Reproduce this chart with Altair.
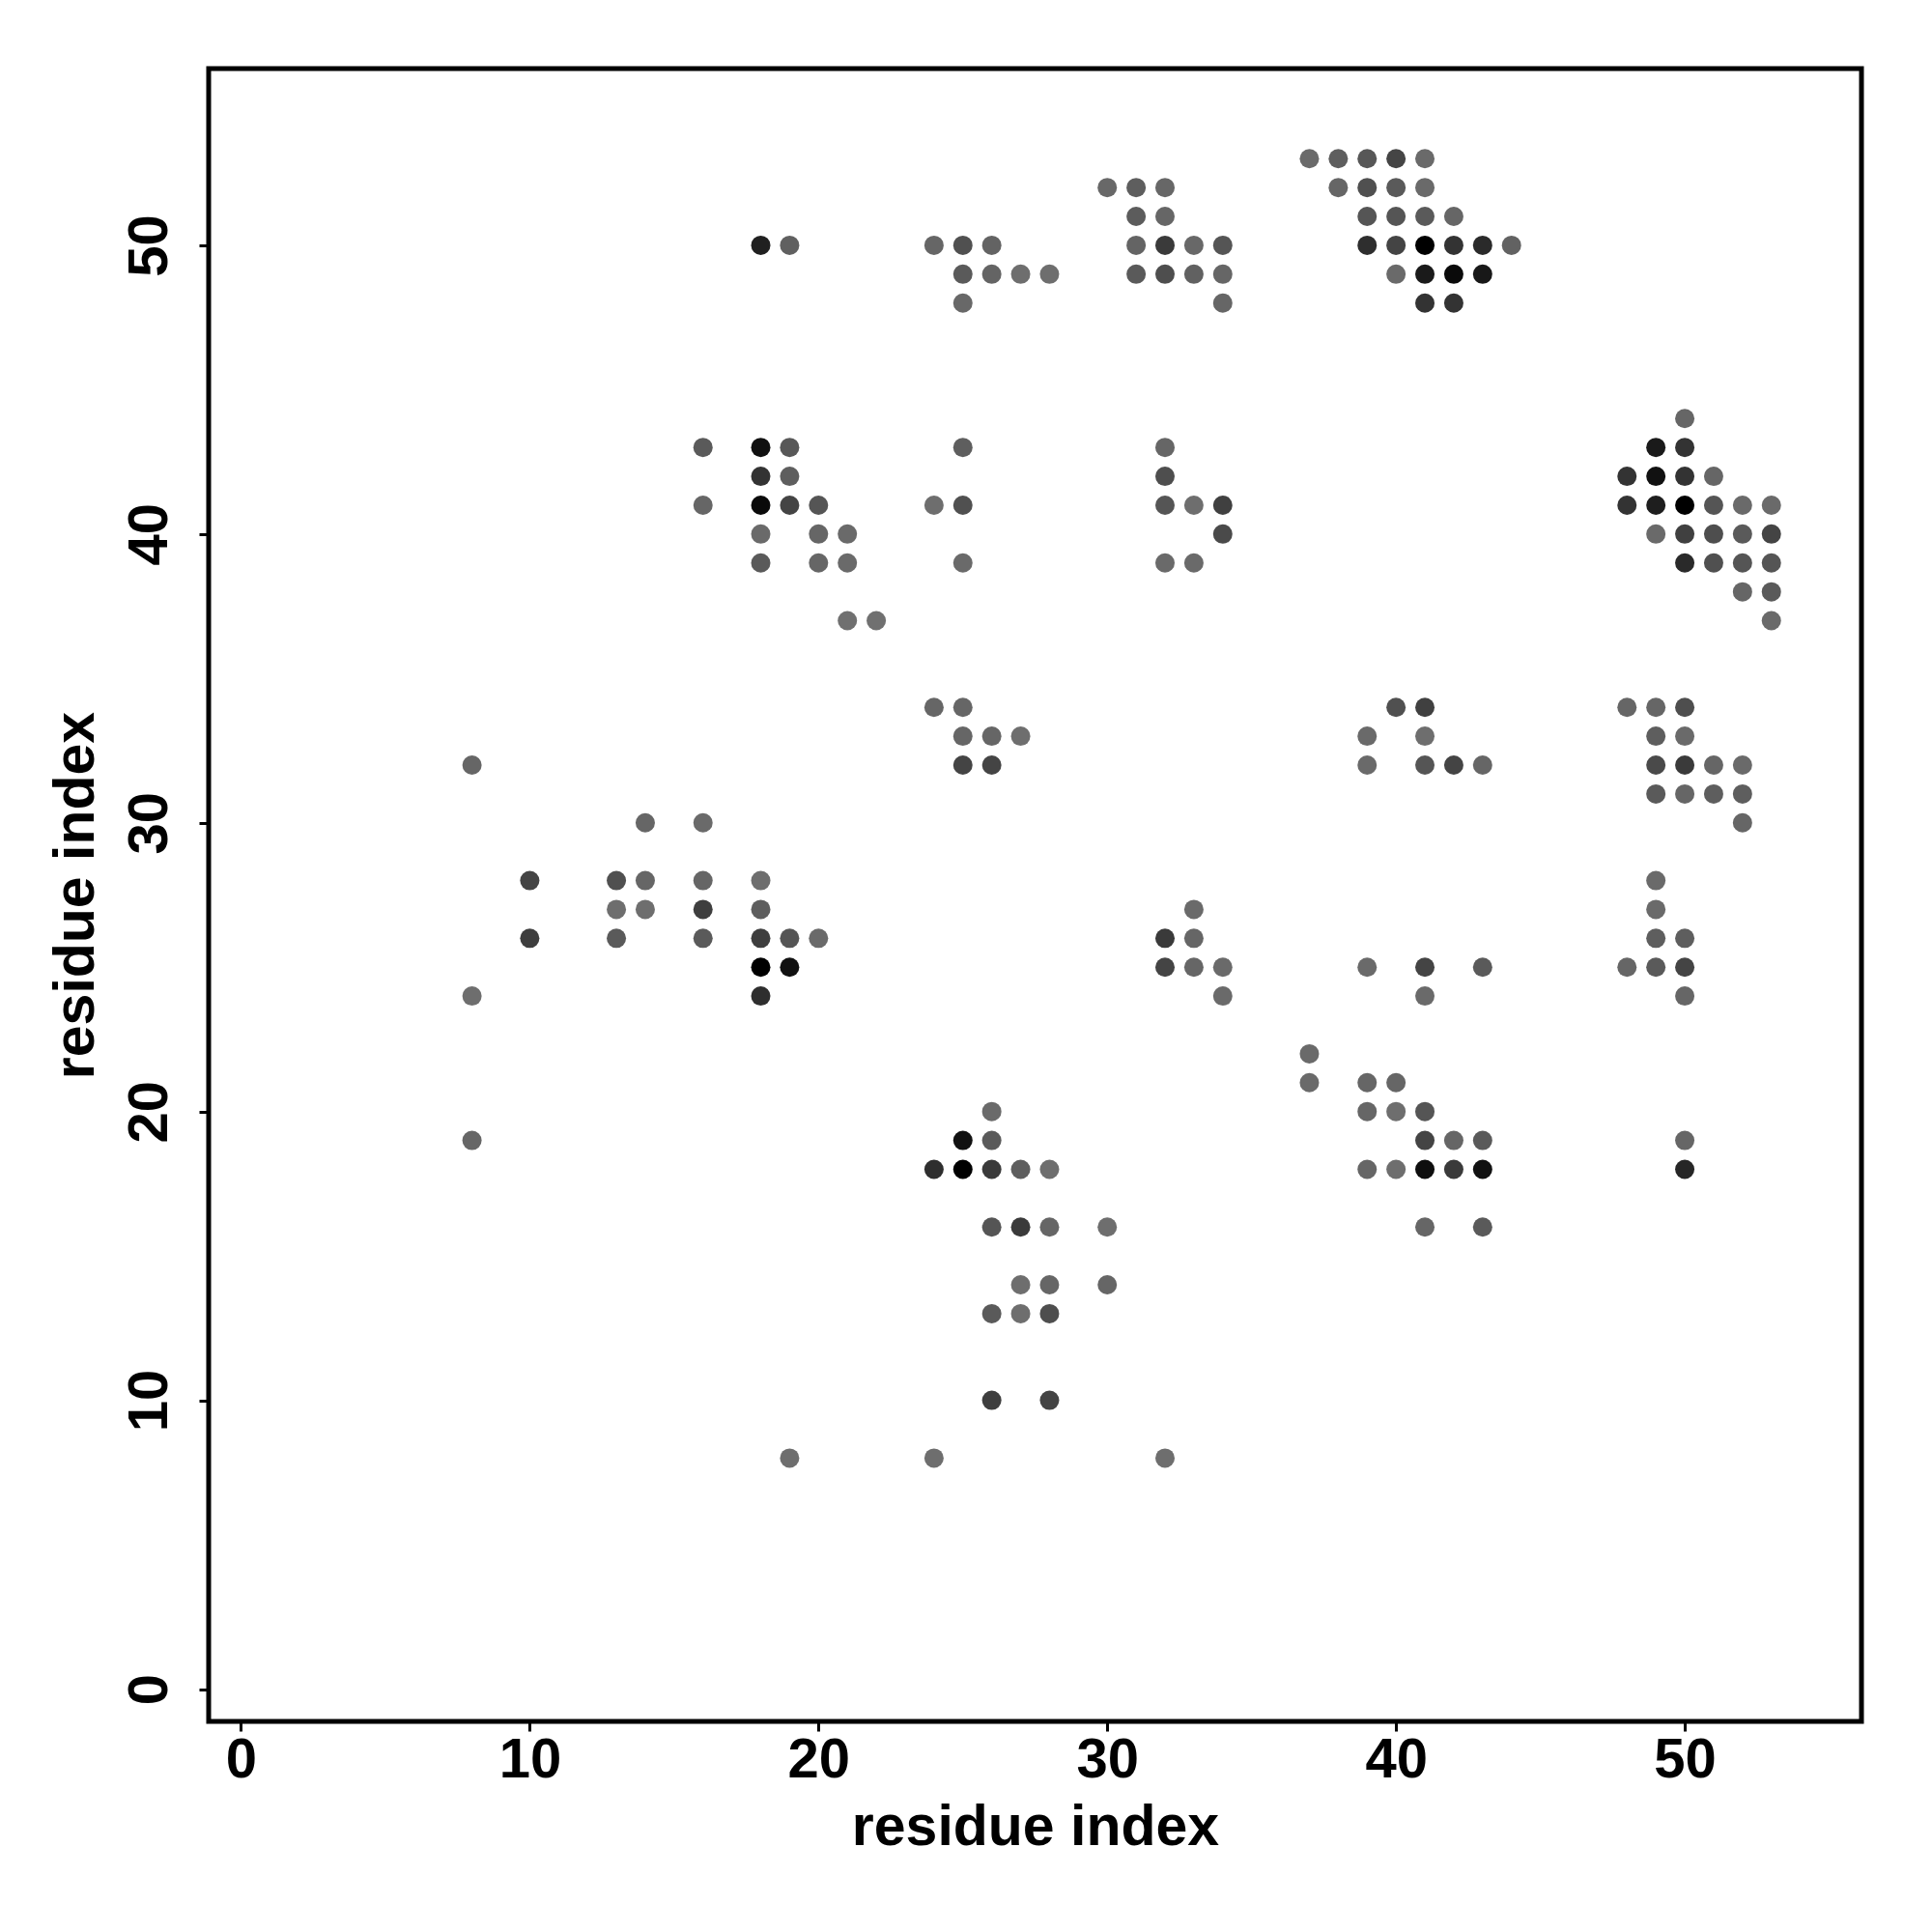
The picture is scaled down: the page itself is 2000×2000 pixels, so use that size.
import altair as alt
import pandas as pd

# residue pairs (i on x, j on y) and grey level of each dot (0 = black, 255 = white)
res_i = [
    37, 38, 39, 40, 41,
    30, 31, 32, 38, 39, 40, 41,
    31, 32, 39, 40, 41, 42,
    18, 19, 24, 25, 26, 31, 32, 33, 34, 39, 40, 41, 42, 43, 44,
    25, 26, 27, 28, 31, 32, 33, 34, 40, 41, 42, 43,
    25, 34, 41, 42,
    50,
    16, 18, 19, 25, 32, 49, 50,
    18, 19, 32, 48, 49, 50, 51,
    16, 18, 19, 20, 24, 25, 32, 33, 34, 48, 49, 50, 51, 52, 53,
    18, 20, 21, 34, 49, 50, 51, 52, 53,
    18, 20, 21, 25, 32, 33, 50, 51, 52, 53,
    52, 53,
    21, 22, 53,
    24, 25, 40, 41, 48, 49, 50,
    25, 26, 27, 39, 41, 49, 50,
    8, 25, 26, 39, 41, 42, 43, 49, 50, 51, 52,
    49, 50, 51, 52,
    14, 16, 52,
    10, 13, 14, 16, 18, 49,
    13, 14, 16, 18, 33, 49,
    10, 13, 16, 18, 19, 20, 32, 33, 49, 50,
    18, 19, 32, 33, 34, 39, 41, 43, 48, 49, 50,
    8, 18, 34, 41, 50,
    37,
    37, 39, 40,
    26, 39, 40, 41,
    8, 25, 26, 41, 42, 43, 50,
    24, 25, 26, 27, 28, 39, 40, 41, 42, 43, 50,
    26, 27, 28, 30, 41, 43,
    27, 28, 30,
    26, 27, 28,
    26, 28,
    19, 24, 32,
]

res_j = [
    53, 53, 53, 53, 53,
    52, 52, 52, 52, 52, 52, 52,
    51, 51, 51, 51, 51, 51,
    50, 50, 50, 50, 50, 50, 50, 50, 50, 50, 50, 50, 50, 50, 50,
    49, 49, 49, 49, 49, 49, 49, 49, 49, 49, 49, 49,
    48, 48, 48, 48,
    44,
    43, 43, 43, 43, 43, 43, 43,
    42, 42, 42, 42, 42, 42, 42,
    41, 41, 41, 41, 41, 41, 41, 41, 41, 41, 41, 41, 41, 41, 41,
    40, 40, 40, 40, 40, 40, 40, 40, 40,
    39, 39, 39, 39, 39, 39, 39, 39, 39, 39,
    38, 38,
    37, 37, 37,
    34, 34, 34, 34, 34, 34, 34,
    33, 33, 33, 33, 33, 33, 33,
    32, 32, 32, 32, 32, 32, 32, 32, 32, 32, 32,
    31, 31, 31, 31,
    30, 30, 30,
    28, 28, 28, 28, 28, 28,
    27, 27, 27, 27, 27, 27,
    26, 26, 26, 26, 26, 26, 26, 26, 26, 26,
    25, 25, 25, 25, 25, 25, 25, 25, 25, 25, 25,
    24, 24, 24, 24, 24,
    22,
    21, 21, 21,
    20, 20, 20, 20,
    19, 19, 19, 19, 19, 19, 19,
    18, 18, 18, 18, 18, 18, 18, 18, 18, 18, 18,
    16, 16, 16, 16, 16, 16,
    14, 14, 14,
    13, 13, 13,
    10, 10,
    8, 8, 8,
]

grey = [
    106, 94, 87, 69, 106,
    104, 94, 103, 102, 80, 90, 106,
    92, 102, 85, 85, 90, 102,
    32, 96, 102, 80, 99, 100, 58, 104, 85, 46, 68, 0, 51, 42, 98,
    90, 100, 110, 110, 90, 78, 97, 102, 106, 26, 10, 24,
    104, 102, 51, 51,
    102,
    90, 16, 88, 94, 102, 26, 51,
    51, 94, 78, 51, 17, 51, 102,
    102, 10, 68, 85, 110, 80, 85, 110, 64, 51, 30, 0, 85, 106, 106,
    106, 102, 106, 74, 106, 64, 78, 90, 68,
    90, 102, 106, 106, 106, 106, 42, 80, 85, 85,
    102, 90,
    112, 112, 106,
    102, 102, 80, 64, 102, 102, 78,
    102, 102, 110, 106, 110, 94, 106,
    102, 68, 68, 106, 85, 68, 102, 74, 58, 102, 106,
    90, 102, 94, 94,
    102, 106, 102,
    68, 80, 102, 102, 110, 106,
    110, 110, 62, 94, 106, 106,
    62, 90, 90, 62, 85, 106, 58, 102, 94, 94,
    0, 17, 68, 102, 106, 106, 68, 90, 102, 90, 68,
    110, 46, 106, 106, 102,
    106,
    106, 102, 102,
    106, 102, 110, 85,
    102, 17, 90, 68, 102, 90, 102,
    46, 0, 58, 94, 110, 102, 110, 14, 58, 17, 38,
    85, 58, 102, 110, 102, 90,
    110, 102, 102,
    90, 110, 78,
    62, 68,
    110, 110, 110,
]

tick_vals = [0, 10, 20, 30, 40, 50]

df = pd.DataFrame({"i": res_i, "j": res_j, "grey": grey})

FONT = "Liberation Sans"
W = 1711
H = 1711

chart = (
    alt.Chart(df)
    .mark_circle(size=400, opacity=1)
    .encode(
        x=alt.X(
            "i:Q",
            scale=alt.Scale(domain=[-1.12, 56.12], nice=False, zero=False),
            axis=alt.Axis(
                values=tick_vals,
                title="residue index",
                grid=False,
                domain=False,
                tickColor="#000000",
                tickWidth=3,
                tickSize=10,
                labelFont=FONT,
                labelFontSize=58,
                labelFontWeight="bold",
                labelColor="#000000",
                labelPadding=47,
                labelBaseline="alphabetic",
                labelFlush=False,
                labelOverlap=False,
                titleFont=FONT,
                titleFontSize=59,
                titleFontWeight="bold",
                titleColor="#000000",
                titleX=W / 2,
                titleY=127,
                titleBaseline="alphabetic",
                titleAlign="center",
            ),
        ),
        y=alt.Y(
            "j:Q",
            scale=alt.Scale(domain=[-1.12, 56.12], nice=False, zero=False),
            axis=alt.Axis(
                values=tick_vals,
                title="residue index",
                grid=False,
                domain=False,
                tickColor="#000000",
                tickWidth=3,
                tickSize=10,
                labelFont=FONT,
                labelFontSize=58,
                labelFontWeight="bold",
                labelColor="#000000",
                labelAngle=270,
                labelAlign="center",
                labelBaseline="alphabetic",
                labelPadding=34,
                labelFlush=False,
                labelOverlap=False,
                titleFont=FONT,
                titleFontSize=59,
                titleFontWeight="bold",
                titleColor="#000000",
                titleAngle=270,
                titleX=-120,
                titleY=H / 2,
                titleBaseline="alphabetic",
                titleAlign="center",
            ),
        ),
        color=alt.Color(
            "grey:Q",
            scale=alt.Scale(domain=[0, 255], range=["#000000", "#ffffff"], interpolate="rgb"),
            legend=None,
        ),
    )
    .properties(
        width=W,
        height=H,
        autosize=alt.AutoSizeParams(type="none"),
        padding={"left": 208, "top": 63, "right": 50, "bottom": 150},
        background="white",
    )
    .configure_view(stroke="#000000", strokeWidth=5, fill="white")
)

chart.save("out.html", embed_options={"renderer": "svg", "actions": False})
